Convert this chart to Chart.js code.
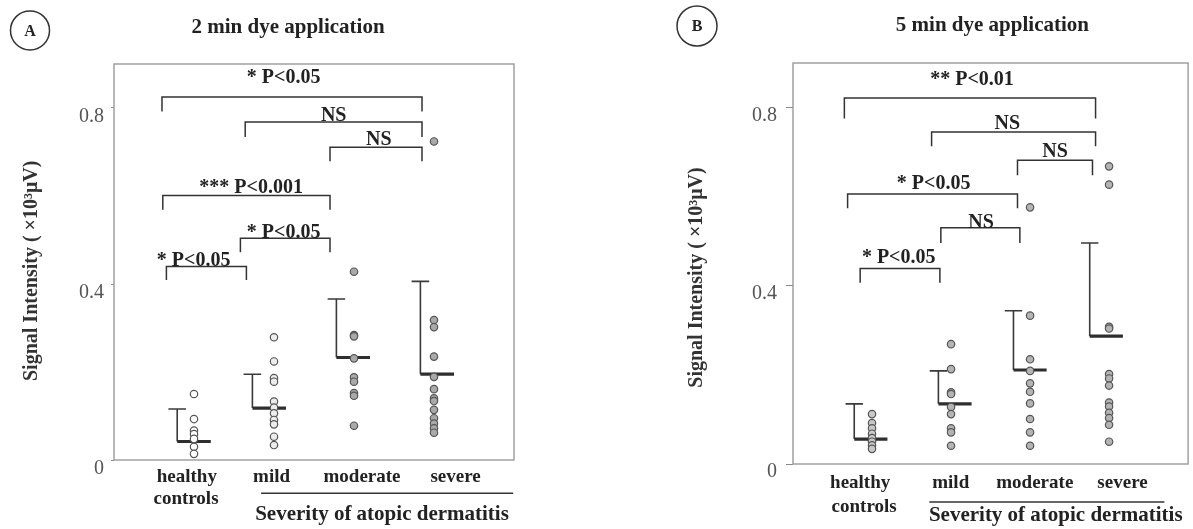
<!DOCTYPE html>
<html><head><meta charset="utf-8">
<script src="https://cdn.jsdelivr.net/npm/chart.js@4.4.1/dist/chart.umd.min.js"></script>
<style>
html,body{margin:0;padding:0;background:#fff;}
#wrap{position:relative;width:1193px;height:529px;overflow:hidden;background:#fff;}
canvas{position:absolute;top:0;}
#cA{left:0;}
#cB{left:590px;}
</style></head><body>
<div id="wrap"><canvas id="cA" width="590" height="529"></canvas><canvas id="cB" width="603" height="529"></canvas></div>
<script>
// ---------- data ----------
const categories = ['healthy', 'mild', 'moderate', 'severe'];
const categorySecondLine = ['controls', '', '', ''];
const groupLabel = 'Severity of atopic dermatitis';
const yAxisTitle = 'Signal Intensity ( ×10³μV)';
const yTickValues = [0, 0.4, 0.8];
const yTickLabels = ['0', '0.4', '0.8'];

// Panel A: 2 min dye application
const titleA = '2 min dye application';
const healthyA = [0.150, 0.093, 0.067, 0.059, 0.048, 0.030, 0.014];
const mildA = [0.279, 0.224, 0.186, 0.178, 0.133, 0.119, 0.106, 0.091, 0.081, 0.053, 0.034];
const moderateA = [0.428, 0.284, 0.281, 0.231, 0.188, 0.178, 0.152, 0.146, 0.078];
const severeA = [0.724, 0.318, 0.302, 0.235, 0.189, 0.161, 0.140, 0.134, 0.114, 0.095, 0.083, 0.072, 0.062];
const meanA = [0.042, 0.118, 0.233, 0.195];
const sdTopA = [0.116, 0.195, 0.366, 0.406];
const bracketLevelsA = [0.825, 0.768, 0.711, 0.601, 0.504, 0.440];
const bracketLabelsA = ['* P<0.05', 'NS', 'NS', '*** P<0.001', '* P<0.05', '* P<0.05'];

// Panel B: 5 min dye application
const titleB = '5 min dye application';
const healthyB = [0.112, 0.092, 0.080, 0.068, 0.058, 0.050, 0.042, 0.034];
const mildB = [0.269, 0.213, 0.161, 0.157, 0.128, 0.112, 0.080, 0.071, 0.041];
const moderateB = [0.576, 0.333, 0.235, 0.209, 0.181, 0.162, 0.136, 0.101, 0.071, 0.041];
const severeB = [0.668, 0.627, 0.308, 0.304, 0.202, 0.192, 0.176, 0.138, 0.129, 0.115, 0.103, 0.088, 0.050];
const meanB = [0.056, 0.135, 0.211, 0.287];
const sdTopB = [0.135, 0.209, 0.344, 0.496];
const bracketLevelsB = [0.8215, 0.745, 0.682, 0.606, 0.530, 0.439];
const bracketLabelsB = ['** P<0.01', 'NS', 'NS', '* P<0.05', 'NS', '* P<0.05'];

// ---------- layout (positions / styles) ----------
const FONT = '"Liberation Serif","Times New Roman",serif';

const layoutA = {
  canvas: 'cA', title: titleA, letter: 'A',
  groups: [healthyA, mildA, moderateA, severeA], mean: meanA, sdTop: sdTopA,
  brLevels: bracketLevelsA, brLabels: bracketLabelsA,
  brX: [[-0.40, 2.85], [0.64, 2.85], [1.70, 2.85], [-0.39, 1.70], [0.58, 1.70], [-0.345, 0.655]],
  brDrop: [0.033, 0.034, 0.032, 0.032, 0.032, 0.031],
  brLabelPos: [[1.12, 0.871], [1.746, 0.785], [2.309, 0.730], [0.714, 0.623], [1.121, 0.519], [-0.004, 0.455]],
  errX: [-0.21, -0.27, -0.22, -0.17],
  fills: ['#ffffff', '#ececec', '#a9a9a9', '#a9a9a9'],
  padding: {left: 0, top: 64, right: 76, bottom: 69},
  axisWidth: 114, tickLen: 3, tickPad: 7, labelOffset: 9,
  titlePos: [288, 32.7], circle: [30, 30.4, 19.5], yTitlePos: [31.7, 270.8],
  catX: [-0.09, 0.97, 2.10, 3.27], controlsX: -0.10,
  catOff: 22, controlsOff: 44, lineOff: 33.3, lineX: [0.839, 3.99], sevX: 2.35, sevOff: 60.4
};
const layoutB = {
  canvas: 'cB', title: titleB, letter: 'B',
  groups: [healthyB, mildB, moderateB, severeB], mean: meanB, sdTop: sdTopB,
  brLevels: bracketLevelsB, brLabels: bracketLabelsB,
  brX: [[-0.35, 2.829], [0.754, 2.829], [1.841, 2.79], [-0.309, 1.841], [0.871, 1.871], [-0.15, 0.859]],
  brDrop: [0.046, 0.032, 0.034, 0.032, 0.034, 0.032],
  brLabelPos: [[1.266, 0.865], [1.7125, 0.766], [2.316, 0.703], [0.779, 0.631], [1.379, 0.5435], [0.3375, 0.465]],
  errX: [-0.225, -0.16, -0.21, -0.245],
  fills: ['#c8c8c8', '#b4b4b4', '#b4b4b4', '#b4b4b4'],
  padding: {left: 0, top: 63, right: 1, bottom: 65},
  axisWidth: 203, tickLen: 7, tickPad: 9, labelOffset: 8,
  titlePos: [402.4, 30.9], circle: [107, 26, 20], yTitlePos: [106.7, 277.5],
  catX: [-0.15, 0.996, 2.06, 3.17], controlsX: -0.10,
  catOff: 24.4, controlsOff: 48.4, lineOff: 38, lineX: [0.725, 3.7], sevX: 2.325, sevOff: 56.8
};

const MEAN_W = 0.42, CAP_HALF = 0.11;
const GAP = (x) => ({x: x, y: null});

function makePanel(L) {
  const datasets = [];
  // dots
  L.groups.forEach((vals, i) => {
    datasets.push({
      type: 'scatter', data: vals.map(v => ({x: i, y: v})),
      pointRadius: 3.7, pointHoverRadius: 3.7, pointBorderWidth: 1.2,
      pointBorderColor: '#555', pointBackgroundColor: L.fills[i], showLine: false, order: 0
    });
  });
  // mean bars
  const meanPts = [];
  const whiskPts = [];
  L.mean.forEach((m, i) => {
    const vx = i + L.errX[i];
    meanPts.push({x: vx, y: m}, {x: vx + MEAN_W, y: m}, GAP(vx + MEAN_W));
    whiskPts.push({x: vx, y: m}, {x: vx, y: L.sdTop[i]}, GAP(vx),
                  {x: vx - CAP_HALF, y: L.sdTop[i]}, {x: vx + CAP_HALF, y: L.sdTop[i]}, GAP(vx + CAP_HALF));
  });
  datasets.push({type: 'line', showLine: true, data: meanPts, borderColor: '#2e2e2e', borderWidth: 3.2,
    pointRadius: 0, spanGaps: false, tension: 0, order: 1, borderCapStyle: 'butt'});
  datasets.push({type: 'line', showLine: true, data: whiskPts, borderColor: '#3a3a3a', borderWidth: 1.6,
    pointRadius: 0, spanGaps: false, tension: 0, order: 2, borderCapStyle: 'butt'});
  // brackets
  const brPts = [];
  L.brLevels.forEach((lv, k) => {
    const [x1, x2] = L.brX[k];
    const d = L.brDrop[k];
    brPts.push({x: x1, y: lv - d}, {x: x1, y: lv}, {x: x2, y: lv}, {x: x2, y: lv - d}, GAP(x2));
  });
  datasets.push({type: 'line', showLine: true, data: brPts, borderColor: '#333', borderWidth: 1.5,
    pointRadius: 0, spanGaps: false, tension: 0, order: 3, borderJoinStyle: 'miter'});

  const decor = {
    id: 'decor' + L.letter,
    beforeDatasetsDraw(chart) {
      const a = chart.chartArea, ctx = chart.ctx;
      ctx.save();
      ctx.strokeStyle = '#9a9a9a'; ctx.lineWidth = 1.4;
      ctx.strokeRect(a.left, a.top, a.right - a.left, a.bottom - a.top);
      ctx.restore();
    },
    afterDraw(chart) {
      const ctx = chart.ctx, xs = chart.scales.x, ys = chart.scales.y, a = chart.chartArea;
      const txt = (s, x, y, font, align, base, color) => {
        ctx.font = font; ctx.textAlign = align || 'center'; ctx.textBaseline = base || 'alphabetic';
        ctx.fillStyle = color || '#222'; ctx.fillText(s, x, y);
      };
      ctx.save();
      // title
      txt(L.title, L.titlePos[0], L.titlePos[1], 'bold 21px ' + FONT, 'center', 'alphabetic', '#222');
      // circle letter
      const [cx, cy, cr] = L.circle;
      ctx.beginPath(); ctx.arc(cx, cy, cr, 0, Math.PI * 2);
      ctx.strokeStyle = '#333'; ctx.lineWidth = 1.5; ctx.stroke();
      txt(L.letter, cx, cy + 0.331 * 16, 'bold 16px ' + FONT, 'center', 'alphabetic', '#222');
      // y axis title
      ctx.save();
      ctx.translate(L.yTitlePos[0], L.yTitlePos[1]);
      ctx.rotate(-Math.PI / 2);
      txt(yAxisTitle, 0, 0, 'bold 20px ' + FONT, 'center', 'middle', '#333');
      ctx.restore();
      // bracket labels
      L.brLabels.forEach((s, k) => {
        const [lx, ly] = L.brLabelPos[k];
        txt(s, xs.getPixelForValue(lx), ys.getPixelForValue(ly) + 0.331 * 20, 'bold 20px ' + FONT, 'center', 'alphabetic', '#222');
      });
      // category labels
      categories.forEach((c, i) => {
        txt(c, xs.getPixelForValue(L.catX[i]), a.bottom + L.catOff, 'bold 19px ' + FONT, 'center', 'alphabetic', '#222');
        if (categorySecondLine[i]) {
          txt(categorySecondLine[i], xs.getPixelForValue(L.controlsX), a.bottom + L.controlsOff, 'bold 19px ' + FONT, 'center', 'alphabetic', '#222');
        }
      });
      // severity underline and label
      ctx.beginPath();
      ctx.moveTo(xs.getPixelForValue(L.lineX[0]), a.bottom + L.lineOff);
      ctx.lineTo(xs.getPixelForValue(L.lineX[1]), a.bottom + L.lineOff);
      ctx.strokeStyle = '#333'; ctx.lineWidth = 1.6; ctx.stroke();
      txt(groupLabel, xs.getPixelForValue(L.sevX), a.bottom + L.sevOff, 'bold 21px ' + FONT, 'center', 'alphabetic', '#222');
      ctx.restore();
    }
  };

  return new Chart(document.getElementById(L.canvas), {
    type: 'scatter',
    data: {datasets},
    options: {
      responsive: false, animation: false, devicePixelRatio: 1,
      layout: {padding: L.padding},
      plugins: {legend: {display: false}, tooltip: {enabled: false}, title: {display: false}},
      events: [],
      scales: {
        x: {type: 'linear', min: -1, max: 4, display: false},
        y: {
          type: 'linear', min: 0, max: 0.9, position: 'left',
          afterBuildTicks: s => { s.ticks = yTickValues.map(v => ({value: v})); },
          afterFit: s => { s.width = L.axisWidth; },
          ticks: {
            callback: (v, i) => yTickLabels[i],
            font: {family: FONT, size: 20}, color: '#555',
            padding: L.tickPad, labelOffset: L.labelOffset
          },
          grid: {drawOnChartArea: false, drawTicks: true, tickLength: L.tickLen, color: '#888', lineWidth: 1},
          border: {display: false},
          title: {display: false}
        }
      }
    },
    plugins: [decor]
  });
}

makePanel(layoutA);
makePanel(layoutB);
</script>
</body></html>
